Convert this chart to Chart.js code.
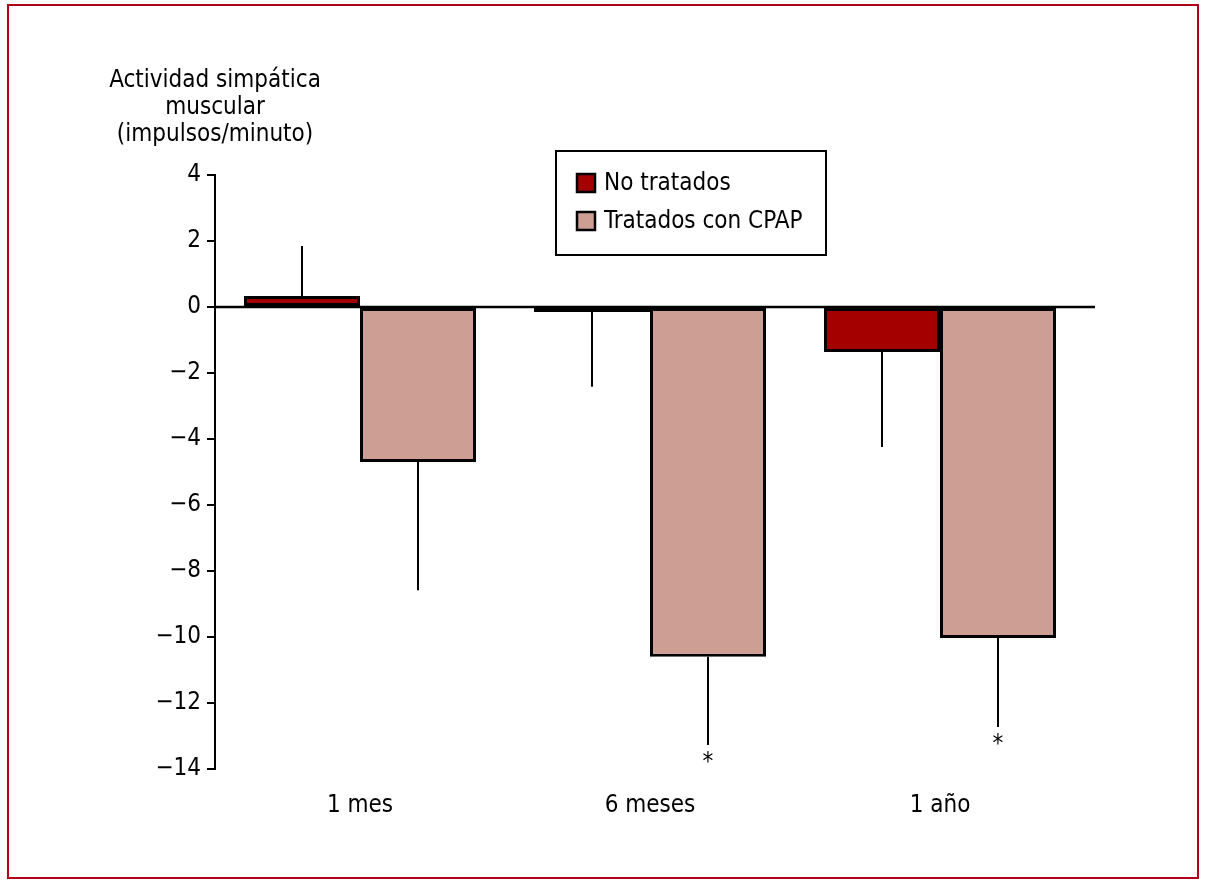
<!DOCTYPE html>
<html>
<head>
<meta charset="utf-8">
<script src="https://cdn.jsdelivr.net/npm/chart.js@4/dist/chart.umd.min.js"></script>
<style>
  html, body { margin: 0; padding: 0; background: #fff; }
  #wrap { width: 1208px; height: 885px; position: relative; }
</style>
</head>
<body>
<div id="wrap"><canvas id="chart"></canvas></div>
<script>
// values
const categories = ['1 mes', '6 meses', '1 año'];
const seriesNames = ['No tratados', 'Tratados con CPAP'];
const noTratados = [0.33, -0.15, -1.36];
const noTratadosErr = [1.85, -2.42, -4.24];   // end of the error line
const tratados = [-4.7, -10.6, -10.03];
const tratadosErr = [-8.58, -13.27, -12.73];
const tratadosSig = [false, true, true];       // asterisk below error line
const yTicks = [4, 2, 0, -2, -4, -6, -8, -10, -12, -14];
const yTitle = ['Actividad simpática', 'muscular', '(impulsos/minuto)'];

const FONT = '"Liberation Sans Narrow", "DejaVu Sans Condensed", "Roboto Condensed", sans-serif';
const RED = '#a50000';
const TAN = '#cc9e94';

const extras = {
  id: 'extras',
  afterDatasetsDraw(chart) {
    const ctx = chart.ctx;
    const y = chart.scales.y;
    const area = chart.chartArea;
    ctx.save();
    // error lines
    ctx.strokeStyle = '#000';
    ctx.lineWidth = 2;
    const errs = [noTratadosErr, tratadosErr];
    errs.forEach((arr, di) => {
      const meta = chart.getDatasetMeta(di);
      meta.data.forEach((bar, i) => {
        ctx.beginPath();
        ctx.moveTo(bar.x, bar.y);
        ctx.lineTo(bar.x, y.getPixelForValue(arr[i]));
        ctx.stroke();
      });
    });
    // zero line
    ctx.lineWidth = 2.5;
    ctx.beginPath();
    ctx.moveTo(area.left, y.getPixelForValue(0));
    ctx.lineTo(area.right + 10, y.getPixelForValue(0));
    ctx.stroke();
    // asterisks
    ctx.fillStyle = '#000';
    ctx.font = '24px ' + FONT;
    ctx.textAlign = 'center';
    ctx.textBaseline = 'top';
    chart.getDatasetMeta(1).data.forEach((bar, i) => {
      if (tratadosSig[i]) ctx.fillText('*', bar.x, y.getPixelForValue(tratadosErr[i]) + 6);
    });
    // axis title
    ctx.font = '24px ' + FONT;
    ctx.textBaseline = 'middle';
    yTitle.forEach((t, i) => ctx.fillText(t, area.left, 81 + i * 27));
    // legend
    const lx = 556, ly = 151, lw = 270, lh = 104;
    ctx.lineWidth = 2;
    ctx.strokeRect(lx, ly, lw, lh);
    ctx.textAlign = 'left';
    [RED, TAN].forEach((c, i) => {
      const cy = 183 + i * 38;
      ctx.fillStyle = c;
      ctx.fillRect(577, cy - 9, 18, 18);
      ctx.lineWidth = 2.5;
      ctx.strokeRect(577, cy - 9, 18, 18);
      ctx.fillStyle = '#000';
      ctx.fillText(seriesNames[i], 604, cy + 1);
    });
    // frame
    ctx.strokeStyle = '#b0001a';
    ctx.lineWidth = 2;
    ctx.strokeRect(8, 5, 1190, 873);
    ctx.restore();
  }
};

new Chart(document.getElementById('chart'), {
  type: 'bar',
  data: {
    labels: categories,
    datasets: [
      { label: seriesNames[0], data: noTratados, backgroundColor: RED, borderColor: '#000', borderWidth: 3, borderSkipped: false },
      { label: seriesNames[1], data: tratados, backgroundColor: TAN, borderColor: '#000', borderWidth: 3, borderSkipped: false }
    ]
  },
  options: {
    responsive: true,
    maintainAspectRatio: false,
    animation: false,
    devicePixelRatio: 1,
    categoryPercentage: 0.8,
    barPercentage: 1.0,
    layout: { padding: { left: 0, top: 175, right: 123, bottom: 56 } },
    plugins: { legend: { display: false }, tooltip: { enabled: false } },
    scales: {
      x: {
        grid: { display: false },
        border: { display: false },
        ticks: { color: '#000', font: { family: FONT, size: 24 }, padding: 14 },
        afterFit(s) { s.height = 60; }
      },
      y: {
        min: -14,
        max: 4,
        afterBuildTicks(s) { s.ticks = yTicks.map(v => ({ value: v })); },
        grid: { drawOnChartArea: false, tickLength: 8, color: '#000', lineWidth: 2 },
        border: { display: true, color: '#000', width: 2 },
        ticks: {
          color: '#000',
          font: { family: FONT, size: 24 },
          padding: 6,
          callback: v => (v < 0 ? '\u2212' + Math.abs(v) : String(v))
        },
        afterFit(s) { s.width = 215; }
      }
    }
  },
  plugins: [extras]
});
</script>
</body>
</html>
